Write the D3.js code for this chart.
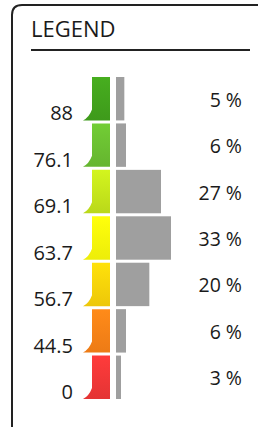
<!DOCTYPE html>
<html>
<head>
<meta charset="utf-8">
<script src="https://cdn.jsdelivr.net/npm/d3@7"></script>
<style>
  html, body { margin: 0; padding: 0; background: #fff; }
  svg { display: block; }
  text { font-family: "Open Sans", sans-serif; fill: #1a1a1a; }
</style>
</head>
<body>
<svg id="chart"></svg>
<script>
// legend classes, top to bottom
const thresholds = ["88", "76.1", "69.1", "63.7", "56.7", "44.5", "0"];
const shares = [5, 6, 27, 33, 20, 6, 3];
const classColors = ["#43a51d", "#6cc232", "#c8e81c", "#ffff0a", "#ffd60a", "#ff8418", "#f53838"];

const width = 258, height = 427;

const svg = d3.select("#chart")
    .attr("width", width)
    .attr("height", height);

// frame with rounded top-left corner
svg.append("path")
    .attr("d", "M12,427 V15 Q12,5 22,5 H262")
    .attr("fill", "none")
    .attr("stroke", "#222")
    .attr("stroke-width", 2);

svg.append("text")
    .attr("x", 31)
    .attr("y", 37)
    .attr("font-size", 22)
    .text("LEGEND");

svg.append("line")
    .attr("x1", 31).attr("x2", 250)
    .attr("y1", 50).attr("y2", 50)
    .attr("stroke", "#222")
    .attr("stroke-width", 2);

// scales
const y = d3.scaleBand()
    .domain(d3.range(thresholds.length))
    .range([77, 399])
    .paddingInner(0.065)
    .paddingOuter(0);

const x = d3.scaleLinear()
    .domain([0, 33])
    .range([0, 55]);

const barX0 = 92, barX1 = 110, grayX = 116;

// gradients for the coloured markers
const defs = svg.append("defs");
classColors.forEach((c, i) => {
  const g = defs.append("linearGradient")
      .attr("id", "grad" + i)
      .attr("x1", 0).attr("x2", 0).attr("y1", 0).attr("y2", 1);
  g.append("stop").attr("offset", "0%").attr("stop-color", d3.color(c).brighter(0.15));
  g.append("stop").attr("offset", "100%").attr("stop-color", d3.color(c).darker(0.2));
});

const rows = svg.append("g")
  .selectAll("g")
  .data(thresholds.map((t, i) => ({ t, share: shares[i], i })))
  .join("g");

// coloured marker with a small tail at the lower left
rows.append("path")
    .attr("d", d => {
      const top = y(d.i), bot = y(d.i) + y.bandwidth();
      return `M${barX0},${top} H${barX1} V${bot} H${barX0 - 9} Q${barX0 - 3},${bot - 3} ${barX0},${bot - 11} Z`;
    })
    .attr("fill", d => `url(#grad${d.i})`);

// grey share bars
rows.append("rect")
    .attr("x", grayX)
    .attr("y", d => y(d.i))
    .attr("width", d => x(d.share))
    .attr("height", y.bandwidth())
    .attr("fill", "#9f9f9f");

// threshold labels
rows.append("text")
    .attr("x", 73)
    .attr("y", d => y(d.i) + y.bandwidth())
    .attr("text-anchor", "end")
    .attr("font-size", 20)
    .text(d => d.t);

// share labels
rows.append("text")
    .attr("x", 242)
    .attr("y", d => y(d.i) + y.bandwidth() / 2 + 8)
    .attr("text-anchor", "end")
    .attr("font-size", 19.5)
    .text(d => d.share + " %");
</script>
</body>
</html>
